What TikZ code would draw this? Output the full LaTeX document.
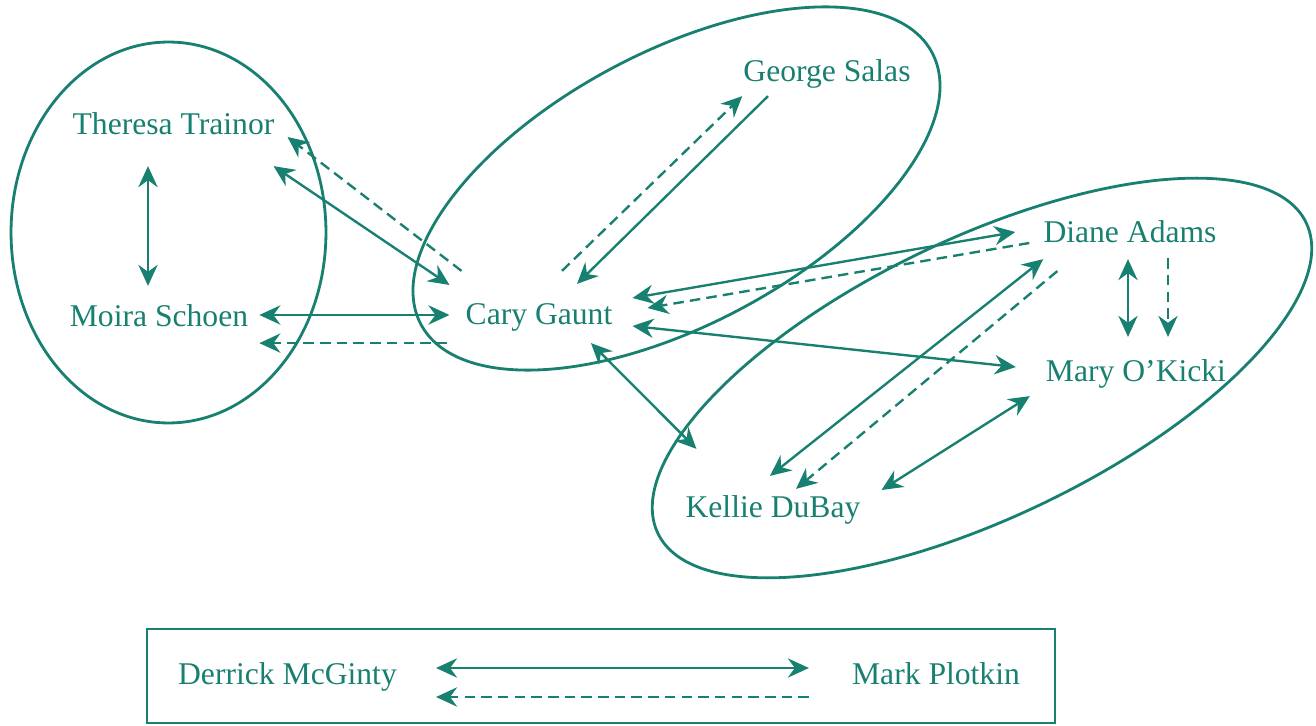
\documentclass[tikz,border=0pt]{standalone}
\usepackage{fontspec}
\setmainfont{Liberation Serif}
\usetikzlibrary{arrows.meta}
\definecolor{ink}{RGB}{24,128,112}
\begin{document}
\begin{tikzpicture}[x=0.02cm, y=-0.02cm, color=ink, line width=1.35pt,
  >={Stealth[length=12pt,width=11pt,inset=4pt]},
  person/.style={inner sep=0pt, text height=13pt, text depth=4pt, font=\fontsize{18}{22}\selectfont},
  group/.style={line width=1.6pt},
  reply/.style={->, dash pattern=on 6pt off 3.5pt}]
\useasboundingbox (0,0) rectangle (1316,726);
\draw[group] (168.5,232.5) ellipse [x radius=3.15cm, y radius=3.81cm];
\draw[group, rotate around={28:(676.5,188.5)}] (676.5,188.5) ellipse [x radius=5.79cm, y radius=2.73cm];
\draw[group, rotate around={25.6:(982,378)}] (982,378) ellipse [x radius=7.19cm, y radius=2.79cm];
\node[person] (tt) at (173.5,127) {Theresa Trainor};
\node[person] (ms) at (159,319) {Moira Schoen};
\node[person] (cg) at (539,317) {Cary Gaunt};
\node[person] (gs) at (827,74) {George Salas};
\node[person] (da) at (1130,235) {Diane Adams};
\node[person] (mo) at (1136,374) {Mary O'Kicki};
\node[person] (kd) at (773,510) {Kellie DuBay};
\draw[<->] ([shift={(-25.5,23)}]tt.south) -- ([shift={(-11,-17)}]ms.north);
\draw[<->] ([shift={(-2,23)}]tt.south east) -- ([shift={(-15,-32)}]cg.west);
\draw[reply] ([shift={(-3,-30)}]cg.north west) -- ([shift={(12,10)}]tt.east);
\draw[<->] ([shift={(10,-4)}]ms.east) -- ([shift={(-15,-2)}]cg.west);
\draw[reply] ([shift={(-17,10)}]cg.south west) -- ([shift={(10,8)}]ms.south east);
\draw[->] ([shift={(-59,6)}]gs.south) -- ([shift={(38,-17)}]cg.north);
\draw[reply] ([shift={(23,-30)}]cg.north) -- ([shift={(0,6)}]gs.south west);
\draw[<->] ([shift={(19,-19)}]cg.east) -- ([shift={(-27,-3)}]da.west);
\draw[reply] ([shift={(-13,8)}]da.west) -- ([shift={(34,-9)}]cg.east);
\draw[<->] ([shift={(19,9)}]cg.east) -- ([shift={(-29,-7)}]mo.west);
\draw[<->] ([shift={(52,10)}]cg.south) -- ([shift={(12,-45)}]kd.north west);
\draw[<->] ([shift={(1,8)}]da.south west) -- ([shift={(-3,-18)}]kd.north);
\draw[reply] ([shift={(15,20)}]da.south west) -- ([shift={(23,-5)}]kd.north);
\draw[<->] ([shift={(-15,6)}]mo.south west) -- ([shift={(20,-20)}]kd.east);
\draw[<->] ([shift={(-2,8)}]da.south) -- ([shift={(-8,-21)}]mo.north);
\draw[reply] ([shift={(38,7)}]da.south) -- ([shift={(32,-21)}]mo.north);
\draw[group] (147,629) rectangle (1055,723);
\node[person] (dm) at (287.5,677) {Derrick McGinty};
\node[person] (mp) at (936,677) {Mark Plotkin};
\draw[<->] ([shift={(38,-9)}]dm.east) -- ([shift={(-42,-9)}]mp.west);
\draw[reply] ([shift={(-42,20)}]mp.west) -- ([shift={(38,20)}]dm.east);
\end{tikzpicture}
\end{document}
